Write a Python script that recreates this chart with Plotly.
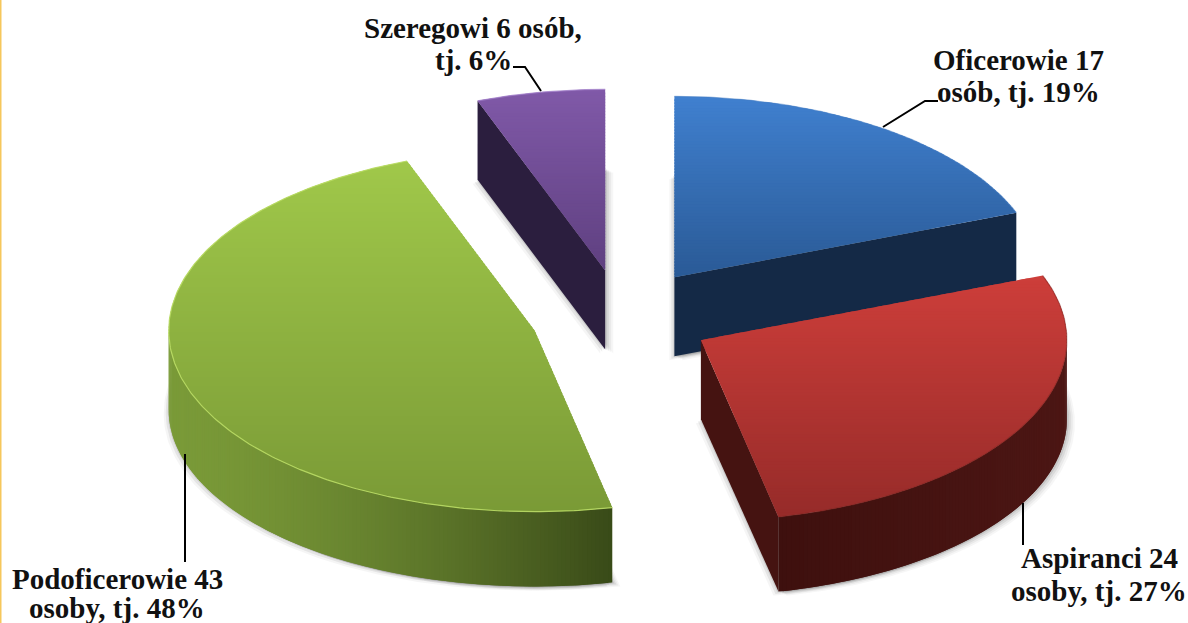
import math
import plotly.graph_objects as go

categories = ["Oficerowie", "Aspiranci", "Podoficerowie", "Szeregowi"]
counts = [17, 24, 43, 6]
percents = [19, 27, 48, 6]

label_lines = [
    ["Oficerowie 17", "osób, tj. 19%"],
    ["Aspiranci 24", "osoby, tj. 27%"],
    ["Podoficerowie 43", "osoby, tj. 48%"],
    ["Szeregowi 6 osób,", "tj. 6%"],
]
label_pos = [(1018, 60, 92), (1099, 558, 591), (117, 579, 608), (473, 28, 60)]
leaders = [
    ([883, 925, 938], [127, 101, 101]),
    ([1023, 1023], [503, 545]),
    ([185, 185], [454, 562]),
    ([541, 525, 513], [91, 67, 67]),
]
top_colors = [((64, 128, 207), (42, 90, 150)), ((205, 62, 58), (150, 43, 41)),
              ((160, 200, 74), (122, 154, 54)), ((128, 89, 168), (95, 64, 128))]
wall_colors = [((20, 42, 72), (20, 40, 68)), ((76, 22, 20), (62, 16, 14)),
               ((122, 154, 56), (57, 74, 24)), ((48, 33, 68), (38, 26, 56))]
rim_colors = ["rgba(70,125,195,0.5)", "rgba(120,35,32,0.45)", "rgba(185,220,100,0.9)", "rgba(160,125,200,0.8)"]
nudges = [(0, 0), (-3, 6), (-4, 3), (-2, 0)]

CX, CY, A, B, PULL = 624, 314, 366, 181, 0.245


def depth(y):
    return min(79.0, 79.0 - (y - 340) * 0.025)


def mix(c1, c2, t):
    t = max(0.0, min(1.0, t))
    return "rgb(%d,%d,%d)" % tuple(round(a + (b - a) * t) for a, b in zip(c1, c2))


def clip_band(poly, y0, y1):
    def clip(points, inside, cut):
        out = []
        for i, p in enumerate(points):
            q = points[(i + 1) % len(points)]
            if inside(p):
                out.append(p)
            if inside(p) != inside(q):
                out.append(cut(p, q))
        return out

    def at(yv):
        return lambda p, q: (p[0] + (q[0] - p[0]) * (yv - p[1]) / (q[1] - p[1]), yv)

    res = clip(poly, lambda p: p[1] >= y0, at(y0))
    if res:
        res = clip(res, lambda p: p[1] <= y1, at(y1))
    return res


fig = go.Figure()


def fill(points, color):
    xs = [p[0] for p in points] + [points[0][0]]
    ys = [p[1] for p in points] + [points[0][1]]
    fig.add_trace(go.Scatter(x=xs, y=ys, mode="lines", fill="toself", fillcolor=color,
                             line=dict(width=0), hoverinfo="skip", showlegend=False))


def warp(deg):
    # mild perspective of the 3D projection
    if deg <= 180:
        return deg + 2.2 * math.sin(math.radians(deg) / 2) ** 2
    return deg + 2.2 * min(1.0, (360 - deg) / 40)


def point(ax, ay, deg):
    r = math.radians(warp(deg))
    return (ax + A * math.sin(r), ay - B * math.cos(r))


total = sum(percents)
spans = []
start = 0.0
for v in percents:
    spans.append((start, start + 360.0 * v / total))
    start += 360.0 * v / total

order = [3, 0, 2, 1]
for i in order:
    s, e = spans[i]
    mid = math.radians((s + e) / 2)
    ax = CX + PULL * A * math.sin(mid) + nudges[i][0]
    ay = CY - PULL * B * math.cos(mid) + nudges[i][1]
    n = max(8, int((e - s) * 1.5))
    angles = [s + (e - s) * k / n for k in range(n + 1)]
    arc = [point(ax, ay, d) for d in angles]
    top = [(ax, ay)] + arc
    low = [(x, y + depth(y)) for x, y in top]

    # soft shadow cast by the bottom face of the slice
    for off, alpha in ((8, 0.05), (6, 0.07), (4, 0.10), (2, 0.14)):
        fill([(x + off, y + off * 0.5) for x, y in low], "rgba(80,80,80,%.2f)" % alpha)
    for off, alpha in ((5, 0.06), (3, 0.10), (1, 0.14)):
        fill([(x - off, y + off * 0.8) for x, y in low], "rgba(80,80,80,%.2f)" % alpha)

    # straight cut faces that look toward the viewer
    cw0, cw1 = wall_colors[i]
    edges = []
    if math.sin(math.radians(s)) < -1e-6:
        edges.append(arc[0])
    if math.sin(math.radians(e)) > 1e-6:
        edges.append(arc[-1])
    for p in edges:
        fill([(ax, ay), p, (p[0], p[1] + depth(p[1])), (ax, ay + depth(ay))], mix(cw0, cw1, 0.5))

    # rounded outer wall, from the part of the arc facing the viewer
    vis = [k for k in range(n + 1) if 90 <= warp(angles[k]) <= 270]
    if len(vis) > 1:
        xs_vis = [arc[k][0] for k in vis]
        xmin, xmax = min(xs_vis), max(xs_vis)
        seq = vis if i == 2 else vis[::-1]
        for j in range(len(seq) - 1):
            p = arc[seq[j]]
            q = arc[seq[min(j + 2, len(seq) - 1)]]
            t = ((p[0] + arc[seq[j + 1]][0]) / 2 - xmin) / (xmax - xmin)
            if i == 1:
                t = 1 - t
            if i == 2:
                t = t ** 1.5
            fill([p, q, (q[0], q[1] + depth(q[1])), (p[0], p[1] + depth(p[1]))], mix(cw0, cw1, t))

    # top face with a vertical gradient
    c0, c1 = top_colors[i]
    ymin = min(p[1] for p in top)
    ymax = max(p[1] for p in top)
    y = ymin
    step = 3.0
    while y < ymax:
        band = clip_band(top, y, y + step + 2)
        if len(band) > 2:
            fill(band, mix(c0, c1, (y + step / 2 - ymin) / (ymax - ymin)))
        y += step

    # rim along the curved edge
    fig.add_trace(go.Scatter(x=[p[0] for p in arc], y=[p[1] for p in arc], mode="lines",
                             line=dict(color=rim_colors[i], width=1.2),
                             hoverinfo="skip", showlegend=False))

for lx, ly in leaders:
    fig.add_trace(go.Scatter(x=lx, y=ly, mode="lines", line=dict(color="#000000", width=2),
                             hoverinfo="skip", showlegend=False))

annotations = []
for lines, (cx, y1, y2) in zip(label_lines, label_pos):
    for text, yy in zip(lines, (y1, y2)):
        annotations.append(dict(x=cx, y=yy, xref="x", yref="y", text="<b>%s</b>" % text,
                                showarrow=False, xanchor="center", yanchor="middle",
                                font=dict(family="Liberation Serif", size=29, color="#111111")))

fig.update_layout(
    width=1188, height=623, margin=dict(l=0, r=0, t=0, b=0),
    paper_bgcolor="white", plot_bgcolor="white", showlegend=False,
    xaxis=dict(range=[0, 1188], visible=False, fixedrange=True),
    yaxis=dict(range=[623, 0], visible=False, fixedrange=True),
    annotations=annotations,
    shapes=[dict(type="line", xref="x", yref="y", x0=0.5, x1=0.5, y0=0, y1=623,
                 line=dict(color="#f6c75c", width=2))],
)
fig.write_html("out.html", config=dict(displayModeBar=False),
               post_script="document.body.style.margin='0';document.body.style.overflow='hidden';")
